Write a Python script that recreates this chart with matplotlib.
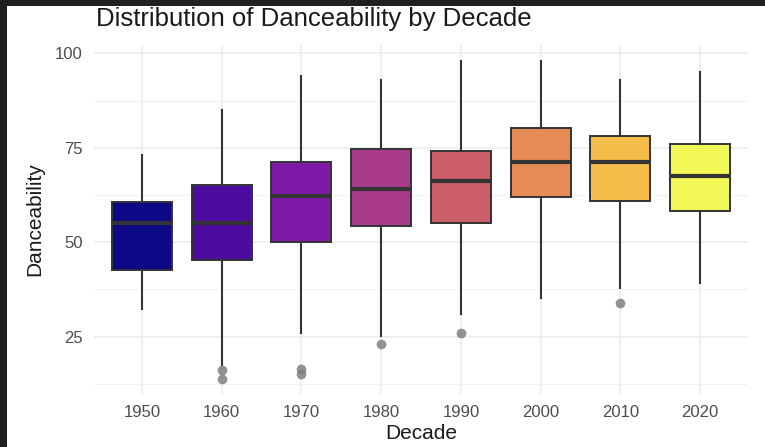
import matplotlib
matplotlib.use("Agg")
import matplotlib.pyplot as plt
from matplotlib.patches import Rectangle
from matplotlib.ticker import MultipleLocator

plt.rcParams['font.family'] = ['Liberation Sans', 'DejaVu Sans']

decades = ["1950", "1960", "1970", "1980", "1990", "2000", "2010", "2020"]
whisker_low = [32.2, 17.5, 26.0, 25.1, 31.1, 35.1, 37.9, 39.1]
q1 = [42.5, 45.4, 50.0, 54.2, 55.0, 61.9, 61.0, 58.2]
median = [55.1, 55.1, 62.2, 64.1, 66.1, 71.1, 71.1, 67.6]
q3 = [60.7, 65.2, 71.1, 74.7, 74.1, 80.1, 78.0, 76.0]
whisker_high = [73.0, 84.9, 93.9, 93.0, 97.9, 97.9, 93.0, 95.0]
outliers = [[], [16.1, 13.9], [16.3, 15.0], [23.1], [26.0], [], [34.0], []]
colors = ["#0c0886", "#4c0ca0", "#7e19a8", "#a9398a", "#cc5e69", "#e68b54",
          "#f4bd4a", "#f1f856"]

fig = plt.figure(figsize=(7.65, 4.47), dpi=100)
fig.patch.set_facecolor("white")
ax = fig.add_axes([94 / 765, 1 - 394 / 447, (748 - 94) / 765, (394 - 45) / 447])
ax.set_facecolor("white")

stats = []
for i, d in enumerate(decades):
    stats.append(dict(label=d, whislo=whisker_low[i], q1=q1[i], med=median[i],
                      q3=q3[i], whishi=whisker_high[i], fliers=outliers[i]))

positions = list(range(1, len(decades) + 1))
bp = ax.bxp(stats, positions=positions, widths=0.75, patch_artist=True,
            showcaps=False,
            boxprops=dict(edgecolor="#333333", linewidth=1.4),
            medianprops=dict(color="#333333", linewidth=3.0, solid_capstyle="butt"),
            whiskerprops=dict(color="#333333", linewidth=1.5),
            flierprops=dict(marker="o", markersize=7, markerfacecolor="#7f7f7f",
                            markeredgecolor="none", alpha=0.85),
            zorder=3)
for patch, c in zip(bp["boxes"], colors):
    patch.set_facecolor(c)

ax.set_xlim(0.4, 8.6)
ax.set_ylim(9.8, 102.2)
ax.set_xticks(positions)
ax.set_xticklabels(decades)
ax.set_yticks([25, 50, 75, 100])
ax.yaxis.set_minor_locator(MultipleLocator(12.5))
ax.grid(True, which="major", color="#ebebeb", linewidth=1.1, zorder=0)
ax.grid(True, which="minor", axis="y", color="#f2f2f2", linewidth=0.8, zorder=0)
ax.set_axisbelow(True)
for s in ax.spines.values():
    s.set_visible(False)
ax.tick_params(axis="both", which="both", length=0, labelsize=12,
               labelcolor="#4d4d4d")
ax.tick_params(axis="x", pad=8)
ax.tick_params(axis="y", pad=8)
ax.set_xlabel("Decade", fontsize=15, color="#1a1a1a", labelpad=3)
ax.set_ylabel("Danceability", fontsize=15, color="#1a1a1a", labelpad=8)

fig.text(96 / 765, 1 - 19 / 447, "Distribution of Danceability by Decade",
         fontsize=18.5, color="#1a1a1a", ha="left", va="center")

# dark screenshot border
fig.patches.append(Rectangle((0, 1 - 6 / 447), 1, 6 / 447, transform=fig.transFigure,
                             facecolor="#202020", edgecolor="none", zorder=10))
fig.patches.append(Rectangle((0, 0), 7 / 765, 1, transform=fig.transFigure,
                             facecolor="#202020", edgecolor="none", zorder=10))

fig.savefig("out.png", dpi=100, facecolor="white")
